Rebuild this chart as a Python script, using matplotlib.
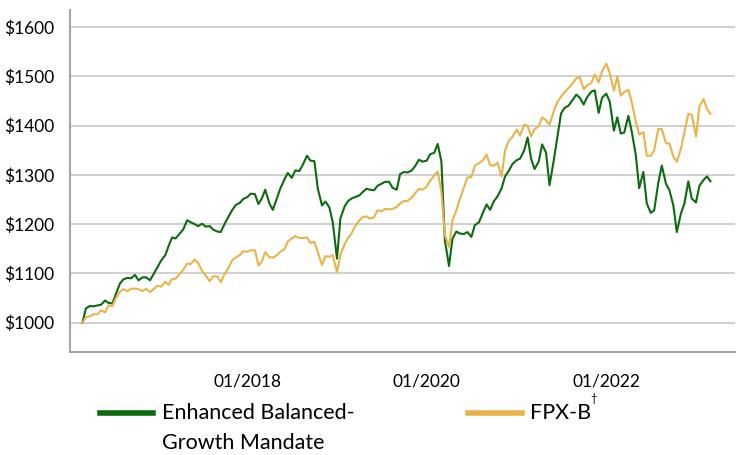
import matplotlib
matplotlib.use('Agg')
import matplotlib.pyplot as plt
import matplotlib.dates as mdates
from matplotlib.lines import Line2D
import pandas as pd

plt.rcParams['font.family'] = ['Lato', 'DejaVu Sans']

# semi-monthly observations, Mar 2016 - Mar 2023
dates = pd.date_range('2016-03-01', periods=169, freq='SMS')

enhanced = [
    1000, 1029, 1034, 1033, 1035, 1036, 1045, 1040, 1039, 1058,
    1080, 1088, 1091, 1090, 1097, 1086, 1092, 1092, 1086, 1098,
    1113, 1126, 1137, 1156, 1173, 1171, 1181, 1189, 1208, 1204,
    1200, 1196, 1201, 1195, 1196, 1189, 1185, 1184, 1201, 1214,
    1229, 1239, 1243, 1251, 1255, 1262, 1261, 1241, 1252, 1270,
    1242, 1229, 1252, 1272, 1291, 1304, 1294, 1309, 1308, 1321,
    1339, 1329, 1328, 1272, 1238, 1246, 1234, 1203, 1130, 1212,
    1236, 1247, 1252, 1255, 1258, 1265, 1272, 1270, 1269, 1278,
    1282, 1286, 1286, 1274, 1270, 1302, 1306, 1305, 1309, 1318,
    1331, 1327, 1329, 1342, 1345, 1363, 1327, 1167, 1115, 1171,
    1185, 1181, 1180, 1184, 1174, 1198, 1204, 1221, 1240, 1229,
    1247, 1256, 1273, 1297, 1309, 1322, 1330, 1333, 1350, 1376,
    1333, 1312, 1327, 1362, 1345, 1279, 1329, 1374, 1425, 1436,
    1441, 1451, 1463, 1457, 1443, 1458, 1469, 1472, 1426, 1457,
    1465, 1449, 1390, 1417, 1384, 1386, 1420, 1387, 1341, 1273,
    1306, 1242, 1223, 1228, 1285, 1319, 1282, 1269, 1238, 1184,
    1222, 1242, 1287, 1252, 1244, 1278, 1290, 1297, 1287,
]

fpx_b = [
    1000, 1011, 1013, 1017, 1017, 1025, 1021, 1035, 1034, 1050,
    1063, 1068, 1064, 1069, 1069, 1068, 1064, 1069, 1062, 1068,
    1075, 1073, 1083, 1077, 1089, 1089, 1099, 1107, 1120, 1119,
    1128, 1121, 1105, 1096, 1084, 1094, 1094, 1082, 1099, 1110,
    1127, 1132, 1137, 1145, 1144, 1147, 1147, 1116, 1124, 1143,
    1133, 1132, 1137, 1144, 1149, 1165, 1171, 1176, 1172, 1172,
    1173, 1162, 1164, 1143, 1117, 1135, 1134, 1137, 1102, 1139,
    1159, 1172, 1181, 1195, 1207, 1214, 1216, 1211, 1214, 1228,
    1226, 1231, 1230, 1231, 1235, 1242, 1247, 1247, 1254, 1263,
    1272, 1270, 1276, 1288, 1299, 1307, 1265, 1178, 1154, 1208,
    1228, 1251, 1275, 1295, 1296, 1319, 1324, 1329, 1341, 1320,
    1319, 1325, 1297, 1350, 1370, 1377, 1392, 1380, 1402, 1400,
    1378, 1393, 1399, 1417, 1411, 1402, 1429, 1447, 1459, 1468,
    1477, 1485, 1496, 1499, 1474, 1482, 1487, 1504, 1488, 1511,
    1526, 1507, 1471, 1500, 1461, 1468, 1473, 1447, 1409, 1382,
    1387, 1339, 1339, 1350, 1394, 1393, 1364, 1364, 1337, 1327,
    1353, 1387, 1424, 1422, 1378, 1439, 1454, 1434, 1424,
]

series_names = ['Enhanced Balanced-', 'Growth Mandate', 'FPX-B', '\u2020']
colors = ['#0b6b0e', '#e8b449']
y_ticks = [1000, 1100, 1200, 1300, 1400, 1500, 1600]
x_ticks = pd.to_datetime(['2018-01-01', '2020-01-01', '2022-01-01'])

fig = plt.figure(figsize=(7.36, 4.55), dpi=100)
ax = fig.add_axes([0.095, 0.226, 0.904, 0.752])

ax.plot(dates, enhanced, color=colors[0], lw=1.5)
ax.plot(dates, fpx_b, color=colors[1], lw=1.5)

ax.set_ylim(940, 1635)
ax.set_xlim(pd.Timestamp('2016-01-10'), pd.Timestamp('2023-06-10'))
ax.set_yticks(y_ticks)
ax.set_yticklabels(['$%d' % v for v in y_ticks])
ax.set_xticks(x_ticks)
ax.xaxis.set_major_formatter(mdates.DateFormatter('%m/%Y'))
ax.tick_params(axis='both', length=0, labelsize=12.5, colors='black')
ax.tick_params(axis='y', pad=11)
ax.tick_params(axis='x', pad=15)

ax.grid(axis='y', color='#c8c8c8', lw=1.2)
ax.set_axisbelow(True)
for s in ['top', 'right']:
    ax.spines[s].set_visible(False)
for s in ['left', 'bottom']:
    ax.spines[s].set_color('#a6a6a6')
    ax.spines[s].set_linewidth(1.5)

# legend drawn by hand so the green key sits on the first text line
W, H = 736, 455
fig.add_artist(Line2D([100 / W, 153 / W], [1 - 413 / H, 1 - 413 / H],
                      color=colors[0], lw=4))
fig.text(162 / W, 1 - 413 / H, series_names[0], fontsize=15.5,
         va='center', ha='left')
fig.text(162 / W, 1 - 443 / H, series_names[1], fontsize=15.5,
         va='center', ha='left')
fig.add_artist(Line2D([468 / W, 522 / W], [1 - 413 / H, 1 - 413 / H],
                      color=colors[1], lw=4))
fig.text(530 / W, 1 - 413 / H, series_names[2], fontsize=15.5,
         va='center', ha='left')
fig.text(590 / W, 1 - 398 / H, series_names[3], fontsize=8,
         va='center', ha='left')

fig.savefig('out.png', dpi=100)
